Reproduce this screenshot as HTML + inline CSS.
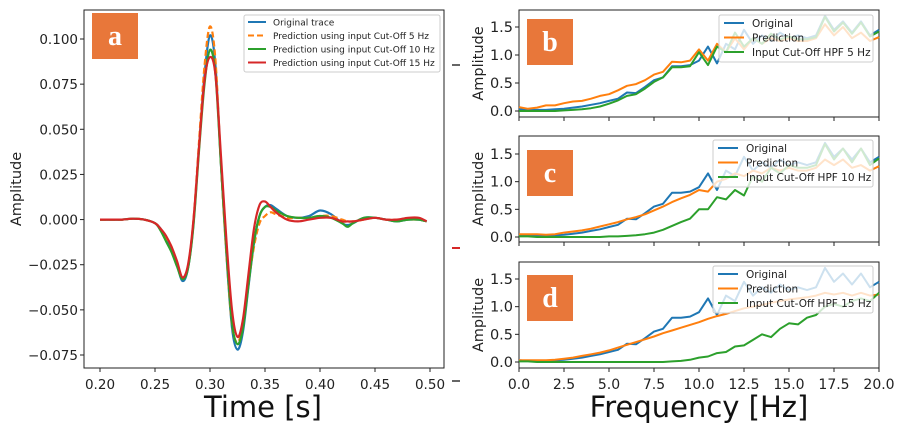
<!DOCTYPE html>
<html><head><meta charset="utf-8">
<style>
html,body{margin:0;padding:0;background:#fff;}
svg{display:block;font-family:"DejaVu Sans","Liberation Sans",sans-serif;}
</style></head>
<body>
<svg id="chart" width="902" height="433" viewBox="0 0 902 433" xmlns="http://www.w3.org/2000/svg">
<g id="layer"></g>
</svg>
<script>
// ---- Panel a data ----
const times = [0.2,0.21,0.22,0.23,0.24,0.25,0.255,0.26,0.265,0.27,0.275,0.28,0.285,0.29,0.295,0.3,0.305,0.31,0.315,0.32,0.325,0.33,0.335,0.34,0.345,0.35,0.355,0.36,0.37,0.38,0.39,0.4,0.41,0.42,0.425,0.43,0.44,0.45,0.46,0.47,0.48,0.49,0.497];
const origTrace = [0,0,0,0.0005,0,-0.002,-0.005,-0.01,-0.016,-0.025,-0.034,-0.027,-0.002,0.04,0.08,0.102,0.085,0.03,-0.02,-0.06,-0.072,-0.062,-0.037,-0.013,0.002,0.007,0.008,0.006,0.002,0.001,0.002,0.005,0.003,-0.002,-0.003,-0.002,0.001,0.001,0,-0.001,0,0,-0.001];
const pred5 = [0,0,0,0.0005,0,-0.002,-0.005,-0.01,-0.015,-0.024,-0.032,-0.026,0,0.043,0.085,0.107,0.088,0.03,-0.02,-0.058,-0.068,-0.058,-0.035,-0.015,-0.002,0.002,0.004,0.003,0.001,0.001,0.001,0.002,0.002,0,-0.001,-0.001,0,0.001,0,0,0,0,-0.001];
const pred10 = [0,0,0,0.0005,0,-0.002,-0.006,-0.012,-0.018,-0.026,-0.033,-0.027,-0.003,0.038,0.075,0.094,0.08,0.03,-0.018,-0.057,-0.069,-0.06,-0.036,-0.012,0.002,0.007,0.007,0.005,0.002,0.001,0.001,0.002,0.001,-0.002,-0.004,-0.002,0.001,0.001,0,-0.001,0,0,-0.001];
const pred15 = [0,0,0,0.0005,0,-0.002,-0.005,-0.009,-0.015,-0.023,-0.032,-0.025,0,0.04,0.077,0.09,0.08,0.035,-0.012,-0.05,-0.065,-0.055,-0.03,-0.005,0.008,0.01,0.007,0.004,0,-0.001,0,0.001,0.001,-0.001,-0.001,-0.001,0,0.001,0,0,0.001,0.001,-0.001];
const timeTicks = [0.2,0.25,0.3,0.35,0.4,0.45,0.5];
const timeTickLabels = ["0.20","0.25","0.30","0.35","0.40","0.45","0.50"];
const ampTicks = [-0.075,-0.05,-0.025,0,0.025,0.05,0.075,0.1];
const ampTickLabels = ["\u22120.075","\u22120.050","\u22120.025","0.000","0.025","0.050","0.075","0.100"];

// ---- Spectra data (freq step 0.5 Hz) ----
const freqs = [0,0.5,1,1.5,2,2.5,3,3.5,4,4.5,5,5.5,6,6.5,7,7.5,8,8.5,9,9.5,10,10.5,11,11.5,12,12.5,13,13.5,14,14.5,15,15.5,16,16.5,17,17.5,18,18.5,19,19.5,20];
const specOrig = [0.03,0.02,0.02,0.02,0.03,0.04,0.06,0.08,0.11,0.14,0.18,0.22,0.33,0.32,0.43,0.55,0.6,0.8,0.8,0.82,0.9,1.15,0.85,1.2,1.1,1.45,1.2,1.35,1.25,1.4,1.3,1.35,1.3,1.35,1.7,1.45,1.6,1.4,1.6,1.35,1.45];
const specPredB = [0.07,0.04,0.06,0.1,0.1,0.14,0.17,0.18,0.22,0.27,0.3,0.37,0.45,0.48,0.55,0.65,0.7,0.88,0.87,0.9,1.1,0.9,1.2,1.05,1.3,1.1,1.3,1.2,1.3,1.25,1.3,1.25,1.25,1.3,1.55,1.35,1.5,1.3,1.4,1.25,1.32];
const specInB = [0,0,0,0,0,0.01,0.02,0.03,0.05,0.08,0.13,0.19,0.27,0.3,0.4,0.52,0.6,0.78,0.78,0.8,1.05,0.82,1.15,1.05,1.4,1.15,1.3,1.2,1.38,1.28,1.33,1.28,1.28,1.32,1.68,1.42,1.58,1.38,1.58,1.33,1.42];
const specPredC = [0.05,0.05,0.05,0.04,0.05,0.08,0.1,0.12,0.15,0.19,0.23,0.27,0.32,0.36,0.41,0.48,0.55,0.63,0.7,0.76,0.85,0.82,1.0,1.05,1.15,1.1,1.2,1.15,1.25,1.2,1.25,1.2,1.2,1.25,1.4,1.3,1.4,1.25,1.3,1.2,1.28];
const specInC = [0.01,0.01,0,0,0,0,0,0,0,0,0.01,0.01,0.02,0.03,0.05,0.08,0.13,0.2,0.27,0.33,0.5,0.5,0.72,0.68,0.85,0.75,1.1,1.0,1.25,1.15,1.3,1.25,1.25,1.3,1.68,1.4,1.6,1.35,1.6,1.3,1.42];
const specPredD = [0.03,0.03,0.03,0.03,0.04,0.06,0.08,0.11,0.14,0.17,0.21,0.26,0.31,0.36,0.41,0.46,0.52,0.57,0.62,0.67,0.72,0.78,0.83,0.87,0.92,0.97,1.0,1.03,1.07,1.1,1.13,1.15,1.17,1.2,1.25,1.22,1.25,1.2,1.25,1.2,1.22];
const specInD = [0.01,0.01,0,0,0,0,0,0,0,0,0,0,0,0,0,0,0,0.01,0.02,0.04,0.08,0.1,0.16,0.18,0.28,0.3,0.4,0.5,0.45,0.6,0.7,0.68,0.8,0.85,1.0,1.05,1.0,1.1,1.15,1.1,1.25];
const freqTicks = [0,2.5,5,7.5,10,12.5,15,17.5,20];
const freqTickLabels = ["0.0","2.5","5.0","7.5","10.0","12.5","15.0","17.5","20.0"];
const specTicks = [0,0.5,1,1.5];
const specTickLabels = ["0.0","0.5","1.0","1.5"];

const NS = "http://www.w3.org/2000/svg";
const root = document.getElementById("layer");
function mk(tag, attrs, parent){
  const e = document.createElementNS(NS, tag);
  for (const k in attrs) e.setAttribute(k, attrs[k]);
  (parent||root).appendChild(e);
  return e;
}
const C = {blue:"#1f77b4",orange:"#ff7f0e",green:"#2ca02c",red:"#d62728",tag:"#e8773a"};

function linePath(xs, ys, sx, sy){
  return xs.map((x,i)=>(i?"L":"M")+sx(x).toFixed(1)+","+sy(ys[i]).toFixed(1)).join(" ");
}
function smoothPath(xs, ys, sx, sy){
  const P = xs.map((x,i)=>[sx(x), sy(ys[i])]);
  let d = "M"+P[0][0].toFixed(1)+","+P[0][1].toFixed(1);
  for (let i=0;i<P.length-1;i++){
    const p0=P[Math.max(0,i-1)], p1=P[i], p2=P[i+1], p3=P[Math.min(P.length-1,i+2)];
    const c1=[p1[0]+(p2[0]-p0[0])/6, p1[1]+(p2[1]-p0[1])/6];
    const c2=[p2[0]-(p3[0]-p1[0])/6, p2[1]-(p3[1]-p1[1])/6];
    d += " C"+c1[0].toFixed(1)+","+c1[1].toFixed(1)+" "+c2[0].toFixed(1)+","+c2[1].toFixed(1)+" "+p2[0].toFixed(1)+","+p2[1].toFixed(1);
  }
  return d;
}

// ---- Panel a ----
const aL=84,aR=444,aT=10,aB=368;
const ax = v => 100 + (v-0.2)/0.3*330;
const ay = v => 39 + (0.1-v)/0.175*316;
let r = mk("rect",{x:aL,y:aT,width:aR-aL,height:aB-aT,fill:"#fff",stroke:"#222","stroke-width":1});


timeTicks.forEach((t,i)=>{
  const x=ax(t);
  mk("line",{x1:x,x2:x,y1:aB,y2:aB+4,stroke:"#222"});
  const tx=mk("text",{x:x,y:aB+21,"font-size":13.5,"text-anchor":"middle",fill:"#222"});
  tx.textContent=timeTickLabels[i];
  
  
});
ampTicks.forEach((t,i)=>{
  const y=ay(t);
  mk("line",{x1:aL-4,x2:aL,y1:y,y2:y,stroke:"#222"});
  const tx=mk("text",{x:aL-6,y:y+5,"font-size":13.5,"text-anchor":"end",fill:"#222"});
  tx.textContent=ampTickLabels[i];
  
  
});
let t = mk("text",{x:0,y:0,"font-size":14.5,"text-anchor":"middle",fill:"#222",transform:"translate(21,189) rotate(-90)"});
t.textContent="Amplitude";


t = mk("text",{x:263,y:417,"font-size":29,"text-anchor":"middle",fill:"#111"});
t.textContent="Time [s]";



const aSeries=[[origTrace,C.blue,""],[pred5,C.orange,"6,3"],[pred10,C.green,""],[pred15,C.red,""]];
const aNames=["series-original-trace","series-pred-5hz","series-pred-10hz","series-pred-15hz"];
aSeries.forEach((s,i)=>{
  const p=mk("path",{d:smoothPath(times,s[0],ax,ay),fill:"none",stroke:s[1],"stroke-width":2.2,"stroke-dasharray":s[2],"stroke-linejoin":"round"});
  
  
});
// legend a
const lgA = mk("g",{});


mk("rect",{x:244,y:15,width:196,height:57,fill:"#fff","fill-opacity":0.85,stroke:"#ccc",rx:2},lgA);
const aLab=["Original trace","Prediction using input Cut-Off 5 Hz","Prediction using input Cut-Off 10 Hz","Prediction using input Cut-Off 15 Hz"];
aLab.forEach((l,i)=>{
  const y=22+i*13.5;
  mk("line",{x1:248,x2:266,y1:y,y2:y,stroke:aSeries[i][1],"stroke-width":2,"stroke-dasharray":aSeries[i][2]},lgA);
  const tx=mk("text",{x:273,y:y+3.5,"font-size":9,fill:"#222"},lgA);
  tx.textContent=l;
  
  
});
// tag a
r = mk("rect",{x:92,y:13,width:46,height:46,fill:C.tag});


t = mk("text",{x:115,y:45,"font-size":28,"font-weight":"bold","text-anchor":"middle",fill:"#fff","font-family":"Liberation Serif,serif"});
t.textContent="a";



// stray marks
mk("line",{x1:452,x2:460,y1:65,y2:65,stroke:"#333","stroke-width":1.5});
mk("line",{x1:452,x2:460,y1:248,y2:248,stroke:C.red,"stroke-width":2});
mk("line",{x1:452,x2:460,y1:381,y2:381,stroke:"#333","stroke-width":1.5});

// ---- spectra panels ----
const sL=519,sR=879;
const sx = v => sL + v/20*(sR-sL);
const panels=[
 {top:10,bot:117,y0:111,y15:27,pred:specPredB,inp:specInB,tag:"b",inLab:"Input Cut-Off HPF 5 Hz",lg:[719,15,154],tagY:19,xlabels:false},
 {top:136,bot:242,y0:237,y15:154,pred:specPredC,inp:specInC,tag:"c",inLab:"Input Cut-Off HPF 10 Hz",lg:[713,140,160],tagY:150,xlabels:false},
 {top:262,bot:368,y0:362,y15:279,pred:specPredD,inp:specInD,tag:"d",inLab:"Input Cut-Off HPF 15 Hz",lg:[713,266,160],tagY:275,xlabels:true}
];
panels.forEach(P=>{
  const sy = v => P.y0 - v/1.5*(P.y0-P.y15);
  const g=mk("g",{});
  
  
  mk("rect",{x:sL,y:P.top,width:sR-sL,height:P.bot-P.top,fill:"#fff",stroke:"#222"},g);
  freqTicks.forEach((f,i)=>{
    const x=sx(f);
    mk("line",{x1:x,x2:x,y1:P.bot,y2:P.bot+4,stroke:"#222"},g);
    if(P.xlabels){
      const tx=mk("text",{x:x,y:P.bot+21,"font-size":14,"text-anchor":"middle",fill:"#222"},g);
      tx.textContent=freqTickLabels[i];
      
      
    }
  });
  specTicks.forEach((v,i)=>{
    const y=sy(v);
    mk("line",{x1:sL-4,x2:sL,y1:y,y2:y,stroke:"#222"},g);
    const tx=mk("text",{x:sL-6,y:y+5,"font-size":14.5,"text-anchor":"end",fill:"#222"},g);
    tx.textContent=specTickLabels[i];
    
    
  });
  const yt=mk("text",{x:0,y:0,"font-size":14.5,"text-anchor":"middle",fill:"#222",transform:"translate(483,"+((P.top+P.bot)/2)+") rotate(-90)"},g);
  yt.textContent="Amplitude";
  
  
  const ser=[[specOrig,C.blue,"series-original"],[P.pred,C.orange,"series-prediction"],[P.inp,C.green,"series-input"]];
  ser.forEach(s=>{
    const p=mk("path",{d:linePath(freqs,s[0],sx,sy),fill:"none",stroke:s[1],"stroke-width":2,"stroke-linejoin":"round"},g);
    
    
  });
  const lg=mk("g",{},g);
  
  
  mk("rect",{x:P.lg[0],y:P.lg[1],width:P.lg[2],height:47,fill:"#fff","fill-opacity":0.78,stroke:"#ccc",rx:2},lg);
  const labs=["Original","Prediction",P.inLab];
  labs.forEach((l,i)=>{
    const y=P.lg[1]+8+i*14.5;
    mk("line",{x1:P.lg[0]+5,x2:P.lg[0]+25,y1:y,y2:y,stroke:ser[i][1],"stroke-width":2},lg);
    const tx=mk("text",{x:P.lg[0]+33,y:y+4,"font-size":10.5,fill:"#222"},lg);
    tx.textContent=l;
    
    
  });
  const tg=mk("rect",{x:527,y:P.tagY,width:46,height:46,fill:C.tag},g);
  
  
  const tl=mk("text",{x:550,y:P.tagY+32,"font-size":28,"font-weight":"bold","text-anchor":"middle",fill:"#fff","font-family":"Liberation Serif,serif"},g);
  tl.textContent=P.tag;
  
  
});
t = mk("text",{x:699,y:417,"font-size":29,"text-anchor":"middle",fill:"#111"});
t.textContent="Frequency [Hz]";


</script>
</body></html>
